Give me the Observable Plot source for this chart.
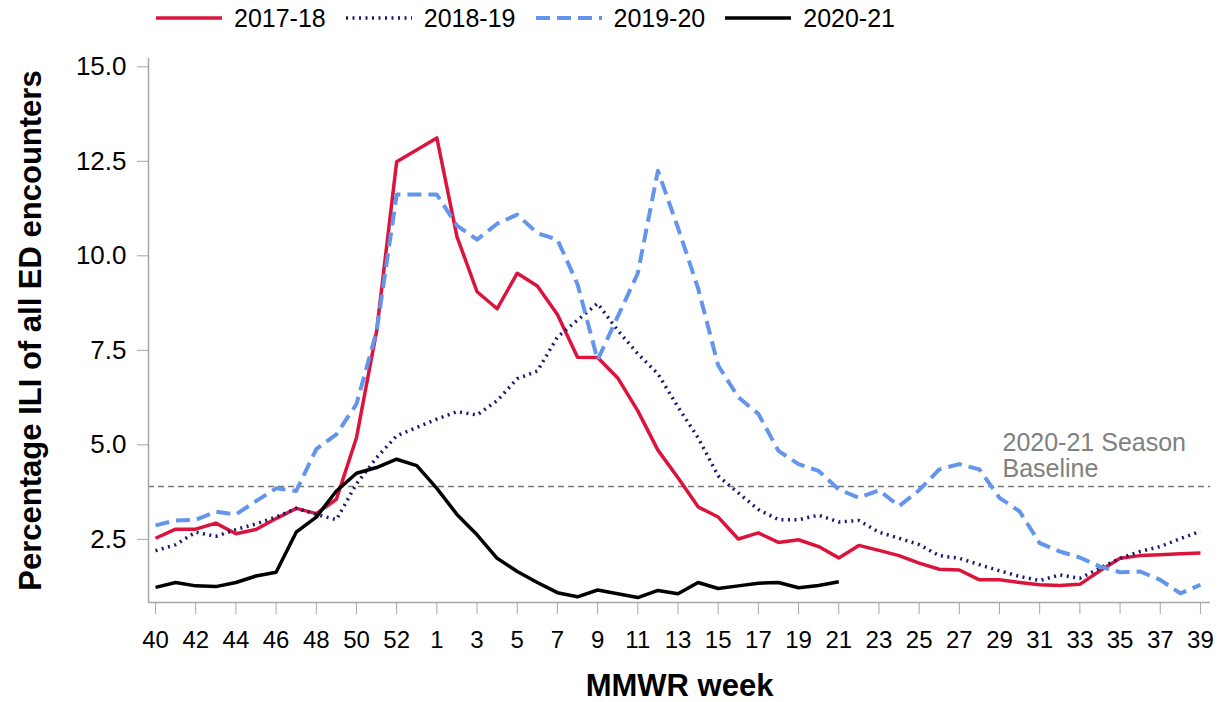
<!DOCTYPE html>
<html>
<head>
<meta charset="utf-8">
<script src="https://cdn.jsdelivr.net/npm/d3@7"></script>
<script src="https://cdn.jsdelivr.net/npm/@observablehq/plot@0.6"></script>
<style>
  body { margin: 0; background: #fff; font-family: "Liberation Sans", Arial, sans-serif; }
  #legend { height: 36px; display: flex; align-items: center; padding-left: 156px; font-size: 25px; color: #000; }
  .item { display: flex; align-items: center; margin-right: 20px; }
  .item svg { margin-right: 12px; }
</style>
</head>
<body>
<div id="legend"></div>
<div id="chart"></div>
<script>
// MMWR weeks on the x axis (2020-21 season includes week 53)
const weekLabels = [40,41,42,43,44,45,46,47,48,49,50,51,52,53,
  1,2,3,4,5,6,7,8,9,10,11,12,13,14,15,16,17,18,19,20,
  21,22,23,24,25,26,27,28,29,30,31,32,33,34,35,36,37,38,39];

const seasons = ["2017-18", "2018-19", "2019-20", "2020-21"];

const s2017_18 = [2.53,2.77,2.77,2.93,2.65,2.76,3.05,3.32,3.18,3.56,5.19,8.0,12.49,null,
  13.12,10.51,9.05,8.6,9.54,9.2,8.45,7.32,7.31,6.77,
  5.90,4.86,4.13,3.36,3.09,2.51,2.67,2.42,2.49,2.31,
  2.01,2.34,2.21,2.07,1.87,1.71,1.69,1.43,1.43,1.36,
  1.3,1.28,1.31,1.67,2.0,2.07,2.09,2.12,2.14];

const s2018_19 = [2.2,2.36,2.69,2.58,2.76,2.91,3.09,3.32,3.16,3.02,3.97,4.66,5.24,null,
  5.68,5.88,5.79,6.17,6.75,6.95,7.85,8.3,8.74,8.03,
  7.41,6.88,6.0,5.19,4.18,3.73,3.29,3.02,3.02,3.14,
  2.96,3.0,2.69,2.53,2.36,2.07,2.0,1.83,1.67,1.52,
  1.41,1.56,1.47,1.74,2.0,2.18,2.31,2.52,2.71];

const s2019_20 = [2.87,3.0,3.02,3.23,3.16,3.51,3.85,3.78,4.89,5.28,6.08,8.0,11.62,null,
  11.62,10.8,10.43,10.85,11.09,10.6,10.43,9.25,7.25,8.39,
  9.54,12.25,10.74,9.14,7.1,6.26,5.82,4.84,4.49,4.31,
  3.82,3.6,3.8,3.38,3.8,4.35,4.49,4.35,3.6,3.24,
  2.4,2.18,2.02,1.78,1.63,1.65,1.43,1.07,1.3];

const s2020_21 = [1.23,1.36,1.27,1.25,1.36,1.53,1.63,2.69,3.09,3.78,4.25,4.40,4.62,4.45,
  3.85,3.16,2.62,2.0,1.65,1.36,1.09,0.98,1.16,1.06,
  0.96,1.15,1.06,1.36,1.2,1.27,1.34,1.36,1.22,1.28,1.38,
  null,null,null,null,null,null,null,null,null,null,null,null,null,null,null,null,null,null];

const baselineValue = 3.9;
const baselineText = "2020-21 Season\nBaseline";
const yTicks = [2.5, 5.0, 7.5, 10.0, 12.5, 15.0];

const styles = {
  "2017-18": {stroke: "#DC143C", strokeWidth: 3.5, dash: null},
  "2018-19": {stroke: "#191970", strokeWidth: 3.5, dash: "2,4.5"},
  "2019-20": {stroke: "#6495ED", strokeWidth: 4, dash: "14,7"},
  "2020-21": {stroke: "#000000", strokeWidth: 3.5, dash: null}
};
const seriesValues = {"2017-18": s2017_18, "2018-19": s2018_19, "2019-20": s2019_20, "2020-21": s2020_21};

// Legend
const legend = document.getElementById("legend");
for (const s of seasons) {
  const st = styles[s];
  const item = document.createElement("div");
  item.className = "item";
  item.innerHTML = `<svg width="66" height="10"><line x1="0" x2="66" y1="5" y2="5" stroke="${st.stroke}" stroke-width="${st.strokeWidth}" ${st.dash ? `stroke-dasharray="${st.dash}"` : ""}/></svg><span>${s}</span>`;
  legend.appendChild(item);
}

const lineMarks = seasons.map(s => {
  const st = styles[s];
  const rows = seriesValues[s].map((v, i) => ({i, v})).filter(d => d.v != null);
  return Plot.line(rows, {
    x: "i", y: "v", stroke: st.stroke, strokeWidth: st.strokeWidth,
    strokeDasharray: st.dash || undefined, strokeLinecap: "butt", strokeLinejoin: "round"
  });
});

const xTickIdx = weekLabels.map((w, i) => i).filter(i => i % 2 === 0);
const annIndex = weekLabels.indexOf(29, 14);

const chart = Plot.plot({
  width: 1224,
  height: 666,
  marginTop: 22,
  marginBottom: 100,
  marginLeft: 148,
  marginRight: 14,
  style: {fontFamily: '"Liberation Sans", Arial, sans-serif', background: "#fff"},
  x: {type: "linear", domain: [-0.35, 52.5]},
  y: {domain: [0.83, 15.22]},
  marks: [
    Plot.ruleY([baselineValue], {stroke: "#777", strokeWidth: 1.5, strokeDasharray: "6,4"}),
    ...lineMarks,
    Plot.text([{i: annIndex, v: baselineValue, t: baselineText}], {
      x: "i", y: "v", text: "t", textAnchor: "start", lineAnchor: "bottom",
      dx: 3, dy: -9, fontSize: 25, fill: "#808080", lineHeight: 1.07
    }),
    Plot.ruleX([-0.35], {stroke: "#a6a6a6", strokeWidth: 1.5}),
    Plot.ruleY([0.83], {stroke: "#a6a6a6", strokeWidth: 1.5}),
    Plot.axisY({ticks: yTicks, tickFormat: d => d.toFixed(1), tickSize: 11, tickPadding: 11,
      fontSize: 26, stroke: "#a6a6a6", fill: "#000", label: null}),
    Plot.axisX({ticks: xTickIdx, tickFormat: i => String(weekLabels[i]), tickSize: 12, tickPadding: 16,
      fontSize: 24, stroke: "#a6a6a6", fill: "#000", label: null}),
    Plot.text(["MMWR week"], {frameAnchor: "bottom", dy: 84, fontSize: 31, fontWeight: "bold", fill: "#000", lineAnchor: "middle", textAnchor: "middle"}),
    Plot.text(["Percentage ILI of all ED encounters"], {frameAnchor: "left", dx: -117, rotate: -90, fontSize: 31, fontWeight: "bold", fill: "#000", lineAnchor: "middle", textAnchor: "middle"})
  ]
});
document.getElementById("chart").appendChild(chart);
</script>
</body>
</html>
